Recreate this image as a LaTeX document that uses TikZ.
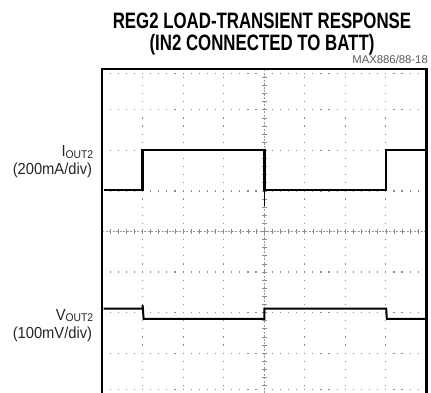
\documentclass[tikz,border=0pt]{standalone}
\usepackage{fontspec}
\setmainfont{Liberation Sans}
\newfontfamily\titlefont[FakeStretch=0.755]{Liberation Sans}
\newfontfamily\labelfont[FakeStretch=0.92]{Liberation Sans}
\tikzset{
  frame/.style={line width=2.4pt},
  gratdots/.style={black!45, line width=1.2pt, dash pattern=on 1.2pt off 6.91pt, dash phase=0.6pt},
  centre/.style={black!40, line width=0.8pt, dash pattern=on 2pt off 1.5pt},
  gtick/.style={black!45, line width=0.7pt},
  trace/.style={line width=2.3pt, line join=miter},
  axislabel/.style={inner sep=0pt, text=black!85, font=\labelfont\fontsize{16}{16}\selectfont},
  heading/.style={anchor=base, inner sep=0pt, font=\titlefont\bfseries\fontsize{22.3}{22.3}\selectfont},
}
\begin{document}
\begin{tikzpicture}[x=1pt, y=-1pt]
  \useasboundingbox (0,0) rectangle (431,393);
  % graticule
  \foreach \k in {1,2,3,5,6,7} {
    \draw[gratdots] (102+\k*40.55,69.3) -- (102+\k*40.55,396);
    \draw[gratdots] (102,69.3+\k*40.55) -- (426.4,69.3+\k*40.55);
  }
  \draw[gratdots] (102,73.3) -- (426.4,73.3);
  \draw[gratdots] (102,389.7) -- (426.4,389.7);
  \draw[centre] (264.4,69.3) -- (264.4,396);
  \draw[centre] (102,231.5) -- (426.4,231.5);
  \foreach \m in {1,...,39} {
    \draw[gtick] (102+\m*8.11,229) -- ++(0,5);
    \draw[gtick] (261.9,69.3+\m*8.11) -- ++(5,0);
  }
  % screen frame
  \draw[frame] (102,396) -- (102,69.3) -- (426.4,69.3) -- (426.4,396);
  % traces
  \draw[trace] (103.5,190) -- (142.6,190) -- (142.6,150.3) -- (264.4,150.3)
    -- (264.4,190) -- (386.2,190) -- (386.2,150.3) -- (425,150.3);
  \draw[line width=1pt] (264.4,185) -- (264.4,206);
  \draw[trace, line width=2pt] (103.5,308.5) -- (142.6,308.5) -- (142.6,305)
    -- (143.6,318.8) -- (264.4,318.8) -- (264.4,308.5) -- (386.2,308.5)
    -- (386.8,318.8) -- (425,318.8);
  % texts
  \node[heading] (title) at (262,28.3) {REG2 LOAD-TRANSIENT RESPONSE};
  \node[heading] (subtitle) at (262,50.5) {(IN2 CONNECTED TO BATT)};
  \node[anchor=base east, inner sep=0pt, text=black!65, font=\fontsize{11.3}{11.3}\selectfont] (partno) at (428,64) {MAX886/88-18};
  \node[axislabel, anchor=base east] (iout) at (93.3,157) {I\raisebox{-1.5pt}{\fontsize{11.2}{11.2}\selectfont OUT2}};
  \node[axislabel, anchor=base east] (iscale) at (92.3,175) {(200mA/div)};
  \node[axislabel, anchor=base east] (vout) at (93.3,320.7) {V\raisebox{-1.2pt}{\fontsize{11.2}{11.2}\selectfont OUT2}};
  \node[axislabel, anchor=base east] (vscale) at (92.3,338.5) {(100mV/div)};
\end{tikzpicture}
\end{document}
